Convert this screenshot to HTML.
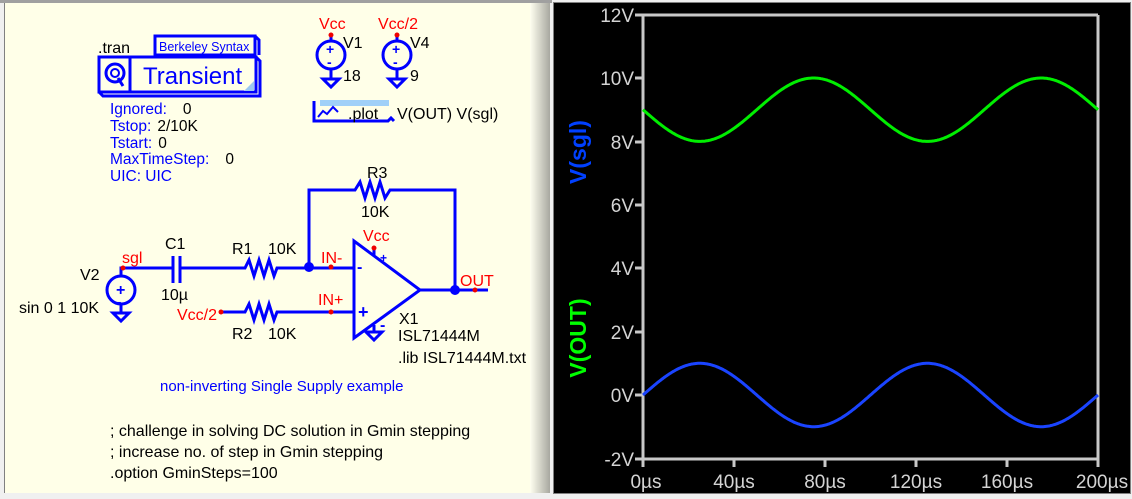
<!DOCTYPE html>
<html><head><meta charset="utf-8"><style>
html,body{margin:0;padding:0;width:1132px;height:499px;overflow:hidden;background:#e8e8e8}
svg{display:block}
text{font-family:"Liberation Sans",sans-serif}
</style></head><body>
<svg width="1132" height="499" viewBox="0 0 1132 499" xmlns="http://www.w3.org/2000/svg">
<defs><linearGradient id="g" x1="0" x2="1"><stop offset="0" stop-color="#fffff0"/><stop offset="1" stop-color="#a8a8a0"/></linearGradient></defs>
<rect x="0" y="0" width="1132" height="499" fill="#f0f0f0"/>
<rect x="0" y="0" width="552" height="3" fill="#a0a0a0"/>
<rect x="4" y="3" width="544" height="490" fill="#ffffe8"/>
<rect x="4" y="3" width="1" height="490" fill="#808080"/>
<rect x="530" y="3" width="20" height="490" fill="url(#g)"/>

<!-- .tran block -->
<g fill="none" stroke="#0000ff" stroke-width="3">
<text x="98" y="53" font-size="16" fill="#000" stroke="none">.tran</text>
<rect x="155" y="36" width="100" height="19"/>
<path d="M255 36 l4 4 v15"/>
<rect x="99" y="57" width="157" height="35"/>
<path d="M256 57 l4 4 v35 h-157 l-4 -4"/>
<line x1="130" y1="57" x2="130" y2="92"/>
<circle cx="115" cy="73" r="9"/>
<circle cx="115" cy="73" r="4" stroke-width="2"/>
<path d="M118 78 l5 8"/>
</g>
<path d="M254 91 l0 -10 l-10 10z" fill="#9cc8f0"/>
<text x="159" y="51" font-size="12.5" fill="#0000ff">Berkeley Syntax</text>
<text x="143" y="84" font-size="24" fill="#0000ff">Transient</text>
<g font-size="15.5" fill="#0000ff">
<text x="110" y="114">Ignored:<tspan fill="#000" dx="16">0</tspan></text>
<text x="110" y="131">Tstop:<tspan fill="#000" dx="6">2/10K</tspan></text>
<text x="110" y="148">Tstart:<tspan fill="#000" dx="6">0</tspan></text>
<text x="110" y="164">MaxTimeStep:<tspan fill="#000" dx="16">0</tspan></text>
<text x="110" y="181">UIC: UIC</text>
</g>

<!-- V1 V4 -->
<g fill="none" stroke="#0000ff" stroke-width="3">
<circle cx="331" cy="55" r="14"/><line x1="331" y1="36" x2="331" y2="41"/><line x1="331" y1="69" x2="331" y2="79"/>
<path d="M323 79 h16 l-8 8z"/>
<circle cx="397" cy="55" r="14"/><line x1="397" y1="36" x2="397" y2="41"/><line x1="397" y1="69" x2="397" y2="79"/>
<path d="M389 79 h16 l-8 8z"/>
</g>
<g fill="#0000ff" font-size="14" font-weight="bold"><text x="326" y="54">+</text><text x="392" y="54">+</text><text x="327" y="67">-</text><text x="393" y="67">-</text></g>
<circle cx="331" cy="35" r="2.5" fill="#e00"/><circle cx="397" cy="35" r="2.5" fill="#e00"/>
<g font-size="16" fill="#ff0000"><text x="319" y="29">Vcc</text><text x="378" y="29">Vcc/2</text></g>
<g font-size="16" fill="#000"><text x="343" y="48">V1</text><text x="343" y="81">18</text><text x="410" y="48">V4</text><text x="410" y="81">9</text></g>

<!-- .plot -->
<rect x="320" y="100" width="69" height="6" fill="#a0d0f8"/>
<path d="M314 101 v20 h74 l3 -3 l3 3" fill="none" stroke="#0000ff" stroke-width="3"/>
<path d="M318 117 l5 -6 l4 3 l6 -7 l5 5" fill="none" stroke="#0000ff" stroke-width="2"/>
<text x="348" y="119" font-size="16" fill="#000">.plot</text>
<text x="397" y="119" font-size="16" fill="#000">V(OUT) V(sgl)</text>

<!-- circuit -->
<g fill="none" stroke="#0000ff" stroke-width="3" stroke-linejoin="miter">
<path d="M309 267 V190 H355 l5 -8 l5 16 l5 -16 l5 16 l5 -16 l5 16 l5 -8 H455 V290"/>
<path d="M121 276 V268 H173 M180 268 H245 l4 -8 l5 16 l5 -16 l5 16 l5 -16 l5 16 l3 -8 H353"/>
<line x1="173" y1="256" x2="173" y2="283"/><line x1="180" y1="256" x2="180" y2="283"/>
<circle cx="121" cy="290" r="14"/><line x1="121" y1="304" x2="121" y2="313"/><path d="M113 313 h16 l-8 8z"/>
<path d="M221 312 H245 l4 -8 l5 16 l5 -16 l5 16 l5 -16 l5 16 l3 -8 H353"/>
<path d="M354 241 V338 L420 290 Z"/>
<path d="M420 290 H488"/>
<line x1="374" y1="247" x2="374" y2="256"/>
<path d="M374 325 V332 M366 332 h16 l-8 8z"/>
</g>
<g fill="#0000ff"><circle cx="309" cy="267" r="5"/><circle cx="455" cy="290" r="5"/></g>
<g fill="#0000ff" font-size="16" font-weight="bold"><text x="116" y="295">+</text><text x="117" y="306" font-size="13">-</text>
<text x="357" y="272">-</text><text x="358" y="318" font-size="18">+</text><text x="380" y="262" font-size="12">+</text><text x="380" y="330">-</text></g>
<g fill="#e00"><circle cx="123" cy="268" r="2.5"/><circle cx="331" cy="267" r="2.5"/><circle cx="331" cy="312" r="2.5"/><circle cx="221" cy="312" r="2.5"/><circle cx="475" cy="290" r="2.5"/><circle cx="374" cy="248" r="2.5"/></g>
<g font-size="16" fill="#ff0000">
<text x="122" y="263">sgl</text><text x="321" y="263">IN-</text><text x="318" y="305">IN+</text><text x="177" y="320">Vcc/2</text><text x="460" y="286">OUT</text><text x="363" y="241">Vcc</text>
</g>
<g font-size="16" fill="#000">
<text x="80" y="280">V2</text><text x="19" y="313">sin 0 1 10K</text>
<text x="165" y="249">C1</text><text x="161" y="300">10µ</text>
<text x="232" y="254">R1</text><text x="268" y="254">10K</text>
<text x="232" y="339">R2</text><text x="268" y="339">10K</text>
<text x="367" y="178">R3</text><text x="361" y="217">10K</text>
<text x="399" y="324">X1</text><text x="398" y="341">ISL71444M</text><text x="398" y="363">.lib ISL71444M.txt</text>
</g>
<text x="160" y="391" font-size="15" fill="#0000ff">non-inverting Single Supply example</text>
<g font-size="16" fill="#000"><text x="110" y="436">; challenge in solving DC solution in Gmin stepping</text><text x="110" y="457">; increase no. of step in Gmin stepping</text><text x="110" y="478">.option GminSteps=100</text></g>

<!-- plot panel -->
<rect x="553" y="2" width="578" height="492" fill="#000"/>
<rect x="553.5" y="2.5" width="577" height="491" fill="none" stroke="#fff" stroke-dasharray="1 1"/>
<g stroke="#c8c8c8" stroke-width="3" fill="none">
<path d="M1098 15 H643 V459 H1098 V15"/>
<path d="M635 15 h8 M635 78 h8 M635 142 h8 M635 205 h8 M635 268 h8 M635 332 h8 M635 395 h8 M635 459 h8"/>
<path d="M643 459 v8 M734 459 v8 M825 459 v8 M916 459 v8 M1007 459 v8 M1098 459 v8"/>
</g>
<g font-size="19" fill="#d4d4d4" text-anchor="end">
<text x="634" y="22">12V</text><text x="634" y="85">10V</text><text x="634" y="149">8V</text><text x="634" y="212">6V</text><text x="634" y="275">4V</text><text x="634" y="339">2V</text><text x="634" y="402">0V</text><text x="634" y="466">-2V</text>
</g>
<g font-size="19" fill="#d4d4d4" text-anchor="middle">
<text x="646" y="488">0µs</text><text x="734" y="488">40µs</text><text x="825" y="488">80µs</text><text x="916" y="488">120µs</text><text x="1007" y="488">160µs</text><text x="1102" y="488">200µs</text>
</g>
<text transform="translate(586,152) rotate(-90)" font-size="23" font-weight="bold" fill="#0040ff" text-anchor="middle">V(sgl)</text>
<text transform="translate(586,338) rotate(-90)" font-size="23" font-weight="bold" fill="#00ff00" text-anchor="middle">V(OUT)</text>
<path id="gr" fill="none" stroke="#00ee00" stroke-width="3" d=""/>
<path id="bl" fill="none" stroke="#1a44ff" stroke-width="3" d=""/>
<script>
var g="",b="";for(var i=0;i<=455;i++){var t=i/455*200e-6;var s=Math.sin(2*Math.PI*1e4*t);var x=643+i;
var yg=395-(9-s)*31.7, yb=395-s*31.7;g+=(i?"L":"M")+x+" "+yg.toFixed(1);b+=(i?"L":"M")+x+" "+yb.toFixed(1);}
document.getElementById("gr").setAttribute("d",g);document.getElementById("bl").setAttribute("d",b);
</script>
</svg>
</body></html>
